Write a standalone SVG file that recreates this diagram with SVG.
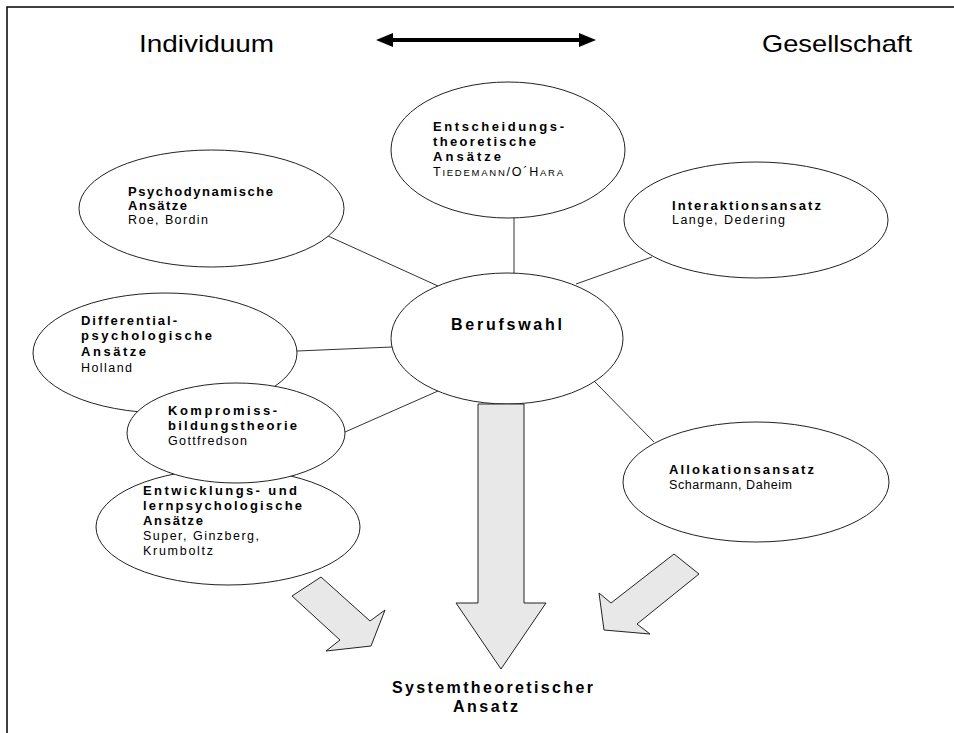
<svg xmlns="http://www.w3.org/2000/svg" width="954" height="733" viewBox="0 0 954 733">
<defs>
<style>
.bg{fill:#fff}
.frame{fill:none;stroke:#000;stroke-width:1.5}
.node ellipse{fill:#fff;stroke:#222;stroke-width:1}
.conn line{stroke:#333;stroke-width:1}
.b{font-family:"Liberation Sans",Arial,sans-serif;font-weight:bold;font-size:13px;fill:#000}
.r{font-family:"Liberation Sans",Arial,sans-serif;font-size:12.5px;fill:#000}
.big{font-size:16px}
.sc{font-size:9.5px}
.title{font-family:"Liberation Sans",Arial,sans-serif;font-size:24px;fill:#000}
.blk{fill:#e8e8e8;stroke:#222;stroke-width:1;stroke-linejoin:miter}
.dbl{stroke:#000;stroke-width:4}
</style>
</defs>
<rect class="bg" x="0" y="0" width="954" height="733"/>
<path class="frame" d="M7,733 V7 H954"/>

<g id="header">
<text class="title" x="139" y="52" textLength="135" lengthAdjust="spacingAndGlyphs">Individuum</text>
<text class="title" x="762" y="52" textLength="150" lengthAdjust="spacingAndGlyphs">Gesellschaft</text>
<line class="dbl" x1="390" y1="40" x2="582" y2="40"/>
<polygon points="376,40 393,33 393,47" fill="#000"/>
<polygon points="596,40 579,33 579,47" fill="#000"/>
</g>

<g id="connectors" class="conn">
<line x1="514" y1="216" x2="514" y2="274"/>
<line x1="328" y1="236" x2="438" y2="286"/>
<line x1="652" y1="257" x2="576" y2="284"/>
<line x1="297" y1="351" x2="392" y2="347"/>
<line x1="345" y1="432" x2="438" y2="391"/>
<line x1="594" y1="381" x2="654" y2="442"/>
<polygon class="blk" points="321,577 292,596 340,640 326,651 371,646 385,610 370,621"/>
<polygon class="blk" points="674,554 699,574 637,624 650,634 604,630 599,593 611,603"/>
</g>

<g id="node-entscheidung" class="node">
<ellipse cx="508" cy="150" rx="117" ry="68"/>
<text class="b" x="433" y="131" textLength="131">Entscheidungs-</text>
<text class="b" x="433" y="146" textLength="103">theoretische</text>
<text class="b" x="433" y="161" textLength="68">Ansätze</text>
<text class="r" x="433" y="176" textLength="130">T<tspan class="sc">IEDEMANN</tspan>/O´H<tspan class="sc">ARA</tspan></text>
</g>

<g id="node-psychodynamisch" class="node">
<ellipse cx="211.5" cy="208.5" rx="132.5" ry="58.5"/>
<text class="b" x="128" y="196" textLength="145">Psychodynamische</text>
<text class="b" x="128" y="210" textLength="59">Ansätze</text>
<text class="r" x="128" y="224" textLength="80">Roe, Bordin</text>
</g>

<g id="node-interaktion" class="node">
<ellipse cx="756" cy="220" rx="132" ry="58"/>
<text class="b" x="672" y="210" textLength="149">Interaktionsansatz</text>
<text class="r" x="672" y="224" textLength="113">Lange, Dedering</text>
</g>

<g id="node-differential" class="node">
<ellipse cx="165" cy="353" rx="132" ry="60"/>
<text class="b" x="81" y="325" textLength="96">Differential-</text>
<text class="b" x="81" y="340" textLength="131">psychologische</text>
<text class="b" x="81" y="356" textLength="65">Ansätze</text>
<text class="r" x="81" y="372" textLength="51">Holland</text>
</g>

<g id="node-entwicklung" class="node">
<ellipse cx="228" cy="527" rx="132" ry="58"/>
<text class="b" x="143" y="495" textLength="154">Entwicklungs- und</text>
<text class="b" x="143" y="510" textLength="159">lernpsychologische</text>
<text class="b" x="143" y="525" textLength="60">Ansätze</text>
<text class="r" x="143" y="540" textLength="116">Super, Ginzberg,</text>
<text class="r" x="143" y="555" textLength="70">Krumboltz</text>
</g>

<g id="node-kompromiss" class="node">
<ellipse cx="236" cy="433" rx="109" ry="50"/>
<text class="b" x="168" y="415" textLength="109">Kompromiss-</text>
<text class="b" x="168" y="430" textLength="129">bildungstheorie</text>
<text class="r" x="168" y="445" textLength="79">Gottfredson</text>
</g>

<g id="node-allokation" class="node">
<ellipse cx="756" cy="482" rx="133" ry="60"/>
<text class="b" x="669" y="474" textLength="145">Allokationsansatz</text>
<text class="r" x="669" y="489" textLength="123">Scharmann, Daheim</text>
</g>

<g id="node-berufswahl" class="node">
<ellipse cx="507" cy="338.5" rx="116" ry="65.5"/>
<text class="b big" x="451" y="330" textLength="111">Berufswahl</text>
</g>

<g id="arrow-main">
<polygon class="blk" points="478,404 524,404 524,603 546,603 501,669 456,603 478,603"/>
</g>

<g id="node-system">
<text class="b big" x="392" y="693" textLength="201">Systemtheoretischer</text>
<text class="b big" x="453" y="712" textLength="65">Ansatz</text>
</g>
</svg>
